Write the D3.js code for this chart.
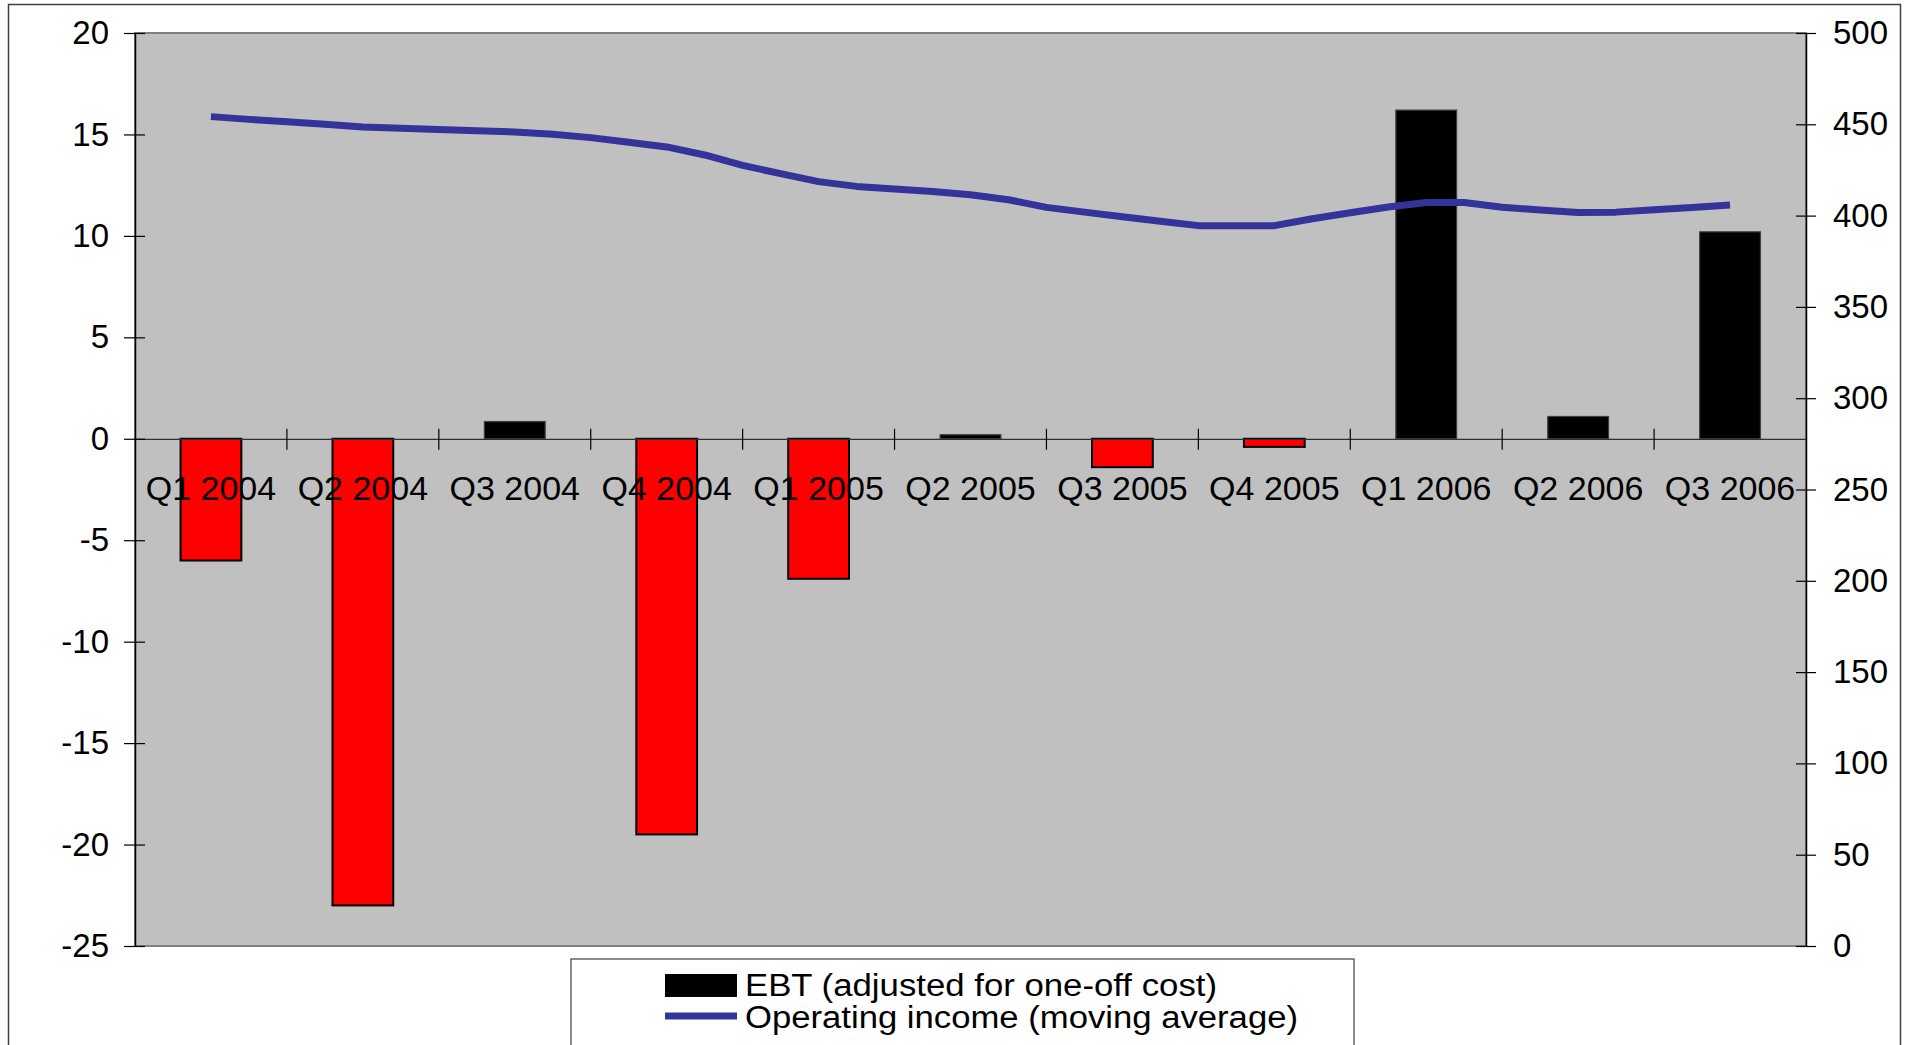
<!DOCTYPE html>
<html lang="en">
<head>
<meta charset="utf-8">
<title>EBT and operating income</title>
<script src="https://d3js.org/d3.v7.min.js"></script>
<style>
html, body { margin: 0; padding: 0; background: #fff; }
svg { display: block; font-family: "Liberation Sans", Arial, sans-serif; }
</style>
</head>
<body>
<div id="chart"></div>
<script>
// data
const categories = ["Q1 2004", "Q2 2004", "Q3 2004", "Q4 2004", "Q1 2005", "Q2 2005",
                    "Q3 2005", "Q4 2005", "Q1 2006", "Q2 2006", "Q3 2006"];
const ebt = [-6.0, -23.0, 0.85, -19.5, -6.9, 0.2, -1.4, -0.4, 16.2, 1.1, 10.2];
// moving average, 4 points per quarter, from Q1 2004 to Q3 2006
const opIncome = [454.2, 452.7, 451.4, 450.0, 448.5, 447.9, 447.2, 446.5, 445.8, 444.6,
                  442.7, 440.2, 437.6, 433.2, 427.5, 423.0, 418.6, 416.0, 414.6, 413.2,
                  411.4, 408.7, 404.5, 401.9, 399.4, 396.9, 394.5, 394.5, 394.5, 398.3,
                  401.6, 404.7, 407.2, 407.2, 404.6, 403.1, 401.7, 401.9, 403.2, 404.5,
                  405.8];
const leftTicks = [20, 15, 10, 5, 0, -5, -10, -15, -20, -25];
const rightTicks = [500, 450, 400, 350, 300, 250, 200, 150, 100, 50, 0];
const legendLabels = ["EBT (adjusted for one-off cost)", "Operating income (moving average)"];

const width = 1906, height = 1045;
const plot = {left: 135, right: 1806, top: 33, bottom: 946};

const svg = d3.select("#chart").append("svg")
    .attr("width", width)
    .attr("height", height);

// outer chart frame
svg.append("rect")
    .attr("x", 8.5).attr("y", 4.5)
    .attr("width", 1892).attr("height", 1100)
    .attr("fill", "#fff")
    .attr("stroke", "#404040")
    .attr("stroke-width", 1.5);

const x = d3.scaleBand().domain(categories).range([plot.left, plot.right]);
const yL = d3.scaleLinear().domain([-25, 20]).range([plot.bottom, plot.top]);
const yR = d3.scaleLinear().domain([0, 500]).range([plot.bottom, plot.top]);
const bw = x.bandwidth();
const xt = d3.scaleLinear()
    .domain([0, categories.length - 1])
    .range([x(categories[0]) + bw / 2, x(categories[categories.length - 1]) + bw / 2]);

// plot area
svg.append("rect")
    .attr("x", plot.left).attr("y", plot.top)
    .attr("width", plot.right - plot.left).attr("height", plot.bottom - plot.top)
    .attr("fill", "#c0c0c0")
    .attr("stroke", "#808080")
    .attr("stroke-width", 2);

// bars
const barW = bw * 0.4;
svg.append("g")
  .selectAll("rect")
  .data(ebt)
  .join("rect")
    .attr("x", (d, i) => x(categories[i]) + (bw - barW) / 2)
    .attr("y", d => yL(Math.max(0, d)))
    .attr("width", barW)
    .attr("height", d => Math.abs(yL(d) - yL(0)))
    .attr("fill", d => d < 0 ? "#ff0000" : "#000")
    .attr("stroke", d => d < 0 ? "#000" : "#404040")
    .attr("stroke-width", d => d < 0 ? 2 : 1.2);

// category axis on the zero line
const xAxis = svg.append("g")
    .attr("transform", `translate(0,${yL(0)})`)
    .call(d3.axisBottom(x).tickSize(0).tickSizeOuter(0))
    .call(g => g.select(".domain").attr("stroke", "#303030").attr("stroke-width", 1.2))
    .call(g => g.selectAll(".tick text")
        .attr("y", 61).attr("dy", null)
        .attr("font-size", 34).attr("fill", "#000")
        .attr("font-family", "Liberation Sans, Arial, sans-serif"));

xAxis.selectAll(".bound")
  .data(categories.slice(1))
  .join("line")
    .attr("class", "bound")
    .attr("x1", d => x(d)).attr("x2", d => x(d))
    .attr("y1", -10).attr("y2", 11)
    .attr("stroke", "#000").attr("stroke-width", 1.2);

// left axis (plain hyphen for negatives, as in the original)
svg.append("g")
    .attr("transform", `translate(${plot.left},0)`)
    .call(d3.axisLeft(yL).tickValues(leftTicks).tickFormat(d => String(d))
        .tickSize(11).tickSizeOuter(0).tickPadding(15))
    .call(g => g.select(".domain").attr("stroke", "#000").attr("stroke-width", 1.5))
    .call(g => g.selectAll(".tick line").attr("x2", -11).attr("x1", 10).attr("stroke-width", 1.2))
    .call(g => g.selectAll(".tick text")
        .attr("font-size", 33).attr("fill", "#000")
        .attr("font-family", "Liberation Sans, Arial, sans-serif"));

// right axis
svg.append("g")
    .attr("transform", `translate(${plot.right},0)`)
    .call(d3.axisRight(yR).tickValues(rightTicks).tickFormat(d => String(d))
        .tickSize(10).tickSizeOuter(0).tickPadding(17))
    .call(g => g.select(".domain").attr("stroke", "#000").attr("stroke-width", 1.5))
    .call(g => g.selectAll(".tick line").attr("x1", -10).attr("stroke-width", 1.2))
    .call(g => g.selectAll(".tick text")
        .attr("font-size", 33).attr("fill", "#000")
        .attr("font-family", "Liberation Sans, Arial, sans-serif"));

// operating income line
const line = d3.line()
    .x((d, i) => xt(i / 4))
    .y(d => yR(d));

svg.append("path")
    .datum(opIncome)
    .attr("fill", "none")
    .attr("stroke", "#333399")
    .attr("stroke-width", 7)
    .attr("stroke-linejoin", "round")
    .attr("d", line);

// legend
const legend = svg.append("g");
legend.append("rect")
    .attr("x", 571).attr("y", 959)
    .attr("width", 783).attr("height", 120)
    .attr("fill", "#fff")
    .attr("stroke", "#404040")
    .attr("stroke-width", 1.2);

legend.append("rect")
    .attr("x", 665).attr("y", 974)
    .attr("width", 72).attr("height", 23)
    .attr("fill", "#000");

legend.append("line")
    .attr("x1", 665).attr("x2", 737)
    .attr("y1", 1016).attr("y2", 1016)
    .attr("stroke", "#333399")
    .attr("stroke-width", 7);

legend.selectAll("text")
  .data(legendLabels)
  .join("text")
    .attr("x", 745)
    .attr("y", (d, i) => 996 + i * 32)
    .attr("font-size", 31)
    .attr("fill", "#000")
    .attr("textLength", (d, i) => i === 0 ? 472 : 553)
    .attr("lengthAdjust", "spacingAndGlyphs")
    .text(d => d);
</script>
</body>
</html>
